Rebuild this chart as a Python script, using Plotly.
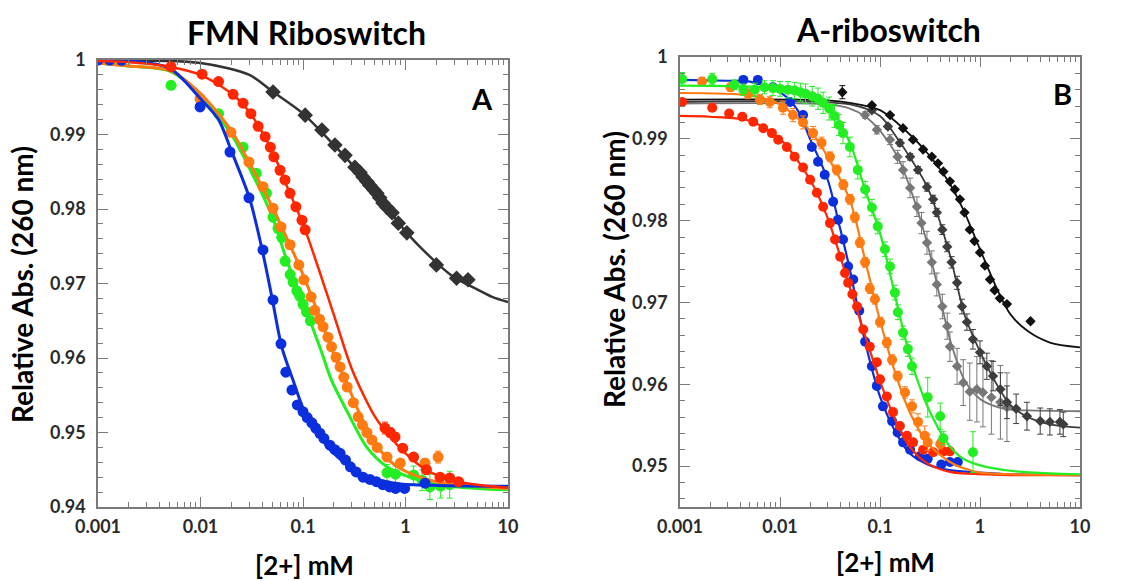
import plotly.graph_objects as go

# ================= Panel A : FMN Riboswitch =================
A_black_x = [0.051, 0.105, 0.153, 0.205, 0.257, 0.321, 0.36, 0.385, 0.42, 0.447, 0.49,
             0.525, 0.56, 0.603, 0.66, 0.74, 0.85, 1.03, 2.0, 3.15, 4.07]
A_black_y = [0.9957, 0.9926, 0.9906, 0.9886, 0.9872, 0.9856, 0.9849, 0.9843, 0.9837, 0.9832,
             0.9826, 0.9821, 0.9815, 0.9808, 0.9802, 0.9795, 0.9781, 0.9768, 0.9725, 0.9707, 0.9705]
A_black_fit_x = [0.001, 0.01, 0.03, 0.05, 0.1, 0.2, 0.3, 0.5, 1, 2, 3, 5, 7, 10]
A_black_fit_y = [0.99998, 0.9996, 0.998, 0.9958, 0.9928, 0.9886, 0.986, 0.9824, 0.977, 0.9728,
                 0.9708, 0.9692, 0.9682, 0.9675]

A_green_x = [0.00516, 0.015, 0.026, 0.035, 0.044, 0.051, 0.057, 0.062, 0.067, 0.075, 0.08,
             0.087, 0.093, 0.1, 0.108, 0.118, 0.66, 0.8, 1.2, 1.45, 1.73, 2.2, 2.7]
A_green_y = [0.9966, 0.9928, 0.9883, 0.9848, 0.9821, 0.9789, 0.9774, 0.9762, 0.973, 0.9712,
             0.9702, 0.969, 0.9683, 0.9672, 0.9662, 0.965, 0.9446, 0.9444, 0.9443, 0.9436,
             0.9427, 0.9428, 0.943]
A_green_err = [0.0003, 0.0004, 0.0005, 0.0005, 0.0006, 0.0006, 0.0006, 0.0006, 0.0006, 0.0006,
               0.0006, 0.0006, 0.0006, 0.0006, 0.0006, 0.0006, 0.0011, 0.0011, 0.0012, 0.0014,
               0.0017, 0.0016, 0.0018]
A_green_fit_x = [0.001, 0.002, 0.005, 0.01, 0.02, 0.03, 0.05, 0.07, 0.1, 0.15, 0.19, 0.275,
                 0.42, 0.66, 1.1, 2, 5, 10]
A_green_fit_y = [0.9996, 0.9992, 0.9985, 0.9953, 0.99, 0.9855, 0.979, 0.973, 0.9675, 0.961,
                 0.957, 0.9526, 0.948, 0.9454, 0.944, 0.943, 0.9425, 0.9423]

A_orange_x = [0.0099, 0.0198, 0.0297, 0.0407, 0.051, 0.061, 0.0747, 0.091, 0.102, 0.12, 0.13,
              0.145, 0.157, 0.175, 0.19, 0.21, 0.23, 0.25, 0.27, 0.31, 0.345, 0.38, 0.42, 0.47,
              0.53, 0.66, 0.89, 1.55, 2.08]
A_orange_y = [0.9948, 0.9903, 0.9863, 0.983, 0.9801, 0.9776, 0.9752, 0.9725, 0.9705, 0.9682,
              0.9664, 0.9652, 0.9642, 0.9628, 0.9615, 0.9601, 0.9588, 0.9574, 0.9561, 0.954,
              0.9521, 0.951, 0.95, 0.949, 0.948, 0.9467, 0.9459, 0.9459, 0.9467]
A_orange_err = [0.0003, 0.0004, 0.0004, 0.0004, 0.0004, 0.0004, 0.0004, 0.0004, 0.0004, 0.0004,
                0.0004, 0.0004, 0.0004, 0.0004, 0.0004, 0.0004, 0.0004, 0.0004, 0.0004, 0.0004,
                0.0004, 0.0004, 0.0004, 0.0004, 0.0004, 0.0005, 0.0005, 0.0006, 0.0008]
A_orange_fit_x = [0.001, 0.002, 0.005, 0.01, 0.02, 0.03, 0.05, 0.07, 0.1, 0.15, 0.2, 0.27,
                  0.35, 0.5, 0.7, 1, 2, 5, 10]
A_orange_fit_y = [0.9996, 0.9992, 0.9986, 0.9955, 0.9905, 0.9862, 0.9803, 0.976, 0.9712, 0.965,
                  0.9605, 0.9565, 0.9528, 0.9487, 0.9462, 0.9448, 0.9434, 0.9428, 0.9425]

A_blue_x = [0.001, 0.0013, 0.0017, 0.0099, 0.0194, 0.0297, 0.0407, 0.051, 0.061, 0.068, 0.078,
            0.088, 0.1, 0.11, 0.122, 0.133, 0.146, 0.16, 0.183, 0.205, 0.23, 0.26, 0.29, 0.33,
            0.385, 0.45, 0.52, 0.6, 0.7, 0.8, 0.98, 1.55]
A_blue_y = [1.0, 1.0, 0.99995, 0.9937, 0.98765, 0.9815, 0.9745, 0.9678, 0.9619, 0.9581, 0.9557,
            0.9537, 0.9528, 0.952, 0.9513, 0.9506, 0.9499, 0.9492, 0.9483, 0.9477, 0.9472,
            0.9463, 0.9454, 0.9447, 0.944, 0.9437, 0.9434, 0.943, 0.9427, 0.9425, 0.9425, 0.9432]
A_blue_fit_x = [0.001, 0.002, 0.005, 0.01, 0.015, 0.02, 0.03, 0.04, 0.05, 0.062, 0.08, 0.105,
                0.14, 0.175, 0.25, 0.36, 0.6, 0.9, 2, 10]
A_blue_fit_y = [0.99995, 0.9999, 0.9989, 0.9948, 0.992, 0.9878, 0.9815, 0.9745, 0.968, 0.9615,
                0.957, 0.9526, 0.95, 0.948, 0.946, 0.9444, 0.9435, 0.9431, 0.9429, 0.9428]

A_red_x = [0.00515, 0.01035, 0.015, 0.0208, 0.026, 0.031, 0.0365, 0.0427, 0.048, 0.052, 0.0597,
           0.0667, 0.0747, 0.0853, 0.0977, 0.105, 0.63, 0.71, 0.79, 0.94, 1.2, 1.6, 2.17, 2.7, 3.3]
A_red_y = [0.9991, 0.9981, 0.9971, 0.9954, 0.9942, 0.9928, 0.9911, 0.9897, 0.9883, 0.987,
           0.9852, 0.9839, 0.9821, 0.9803, 0.9785, 0.9772, 0.9506, 0.95, 0.9494, 0.9479, 0.9467,
           0.945, 0.944, 0.9439, 0.9434]
A_red_err = [0.0002, 0.0002, 0.0002, 0.0002, 0.0002, 0.0002, 0.0002, 0.0002, 0.0002, 0.0002,
             0.0002, 0.0002, 0.0002, 0.0002, 0.0002, 0.0002, 0.0008, 0.0006, 0.0006, 0.0005,
             0.0005, 0.0004, 0.0004, 0.0004, 0.0003]
A_red_fit_x = [0.001, 0.002, 0.005, 0.01, 0.02, 0.03, 0.05, 0.07, 0.1, 0.15, 0.2, 0.3, 0.5,
               0.7, 1, 1.5, 2, 3, 5, 10]
A_red_fit_y = [0.99985, 0.9997, 0.9991, 0.998, 0.9955, 0.993, 0.9878, 0.983, 0.978, 0.971,
               0.9658, 0.9585, 0.9522, 0.9495, 0.9472, 0.9452, 0.9443, 0.9435, 0.943, 0.9426]

# ================= Panel B : A-riboswitch =================
B_gray_x = [0.071, 0.093, 0.126, 0.15, 0.17, 0.2, 0.234, 0.26, 0.295, 0.33, 0.37, 0.42, 0.47,
            0.5, 0.59, 0.68, 0.79, 0.93, 1.07, 1.3, 1.6, 1.86]
B_gray_y = [0.9929, 0.9911, 0.9899, 0.9878, 0.9862, 0.984, 0.9817, 0.9797, 0.9773, 0.9749,
            0.9722, 0.9695, 0.9671, 0.9646, 0.9622, 0.9602, 0.9591, 0.9594, 0.959, 0.9584,
            0.9578, 0.9572]
B_gray_err = [0.0004, 0.0005, 0.0006, 0.0008, 0.001, 0.0012, 0.0012, 0.0013, 0.0014, 0.0014,
              0.0014, 0.0015, 0.0016, 0.0018, 0.0022, 0.0028, 0.0035, 0.004, 0.0042, 0.0045,
              0.0045, 0.0042]
B_gray_fit_x = [0.001, 0.03, 0.05, 0.07, 0.1, 0.15, 0.2, 0.3, 0.4, 0.5, 0.7, 1, 1.5, 2, 3, 10]
B_gray_fit_y = [0.9943, 0.9942, 0.9937, 0.9928, 0.991, 0.9878, 0.984, 0.977, 0.9705, 0.9655,
                0.9605, 0.9582, 0.9572, 0.9569, 0.9568, 0.9567]

B_dgray_x = [0.083, 0.12, 0.158, 0.2, 0.24, 0.295, 0.34, 0.37, 0.42, 0.47, 0.52, 0.59, 0.66,
             0.74, 0.85, 1.0, 1.17, 1.35, 1.6, 1.86, 2.3, 2.95, 4.0, 5.0, 6.3, 6.8]
B_dgray_y = [0.9935, 0.9915, 0.9895, 0.9878, 0.9862, 0.9841, 0.9826, 0.981, 0.9789, 0.9768,
             0.9749, 0.9724, 0.9695, 0.9676, 0.9655, 0.9639, 0.9622, 0.961, 0.9594, 0.9578,
             0.957, 0.9561, 0.9555, 0.9554, 0.9554, 0.9551]
B_dgray_err = [0.0003, 0.0003, 0.0004, 0.0004, 0.0004, 0.0005, 0.0005, 0.0005, 0.0006, 0.0006,
               0.0007, 0.0008, 0.0009, 0.001, 0.0012, 0.0014, 0.0016, 0.0018, 0.002, 0.002,
               0.0018, 0.0017, 0.0016, 0.0016, 0.0015, 0.0015]
B_dgray_fit_x = [0.001, 0.05, 0.1, 0.15, 0.2, 0.3, 0.5, 0.7, 1, 1.5, 2, 3, 5, 10]
B_dgray_fit_y = [0.9945, 0.9942, 0.9928, 0.99, 0.9877, 0.984, 0.9758, 0.9685, 0.964, 0.9598,
                 0.9575, 0.956, 0.9551, 0.9547]

B_black_x = [0.042, 0.083, 0.126, 0.17, 0.214, 0.27, 0.33, 0.38, 0.43, 0.5, 0.56, 0.63, 0.7,
             0.79, 0.88, 1.0, 1.12, 1.26, 1.4, 1.58, 1.86, 3.2]
B_black_y = [0.9957, 0.9941, 0.9929, 0.9913, 0.9899, 0.9887, 0.9878, 0.987, 0.986, 0.9848,
             0.9838, 0.9826, 0.981, 0.9789, 0.9775, 0.9761, 0.9745, 0.9728, 0.9715, 0.9705,
             0.9698, 0.9677]
B_black_err = [0.0008, 0.0002, 0.0002, 0.0002, 0.0002, 0.0002, 0.0002, 0.0002, 0.0002, 0.0002,
               0.0002, 0.0002, 0.0002, 0.0002, 0.0002, 0.0002, 0.0002, 0.0002, 0.0002, 0.0002,
               0.0002, 0.0002]
B_black_fit_x = [0.001, 0.03, 0.05, 0.1, 0.2, 0.3, 0.5, 0.7, 1, 1.5, 2, 3, 5, 10]
B_black_fit_y = [0.9948, 0.9947, 0.9944, 0.9935, 0.9905, 0.9882, 0.9845, 0.981, 0.9765, 0.9715,
                 0.9686, 0.9665, 0.9651, 0.9645]

B_blue_x = [0.0043, 0.006, 0.0085, 0.0126, 0.017, 0.0208, 0.024, 0.028, 0.034, 0.038, 0.0427,
            0.048, 0.054, 0.062, 0.071, 0.083, 0.093, 0.107, 0.132, 0.15, 0.17, 0.2, 0.25, 0.3,
            0.41, 0.5, 0.6]
B_blue_y = [0.9972, 0.9972, 0.9963, 0.9945, 0.9929, 0.989, 0.9872, 0.9856, 0.9823, 0.9801,
            0.9777, 0.9744, 0.9728, 0.969, 0.9652, 0.9622, 0.9598, 0.9573, 0.9555, 0.9541,
            0.9529, 0.952, 0.9512, 0.9509, 0.9502, 0.9505, 0.9505]
B_blue_fit_x = [0.001, 0.003, 0.005, 0.01, 0.015, 0.02, 0.03, 0.04, 0.05, 0.07, 0.1, 0.15,
                0.2, 0.3, 0.5, 1, 2, 10]
B_blue_fit_y = [0.9972, 0.9971, 0.997, 0.9957, 0.9935, 0.99, 0.985, 0.979, 0.974, 0.9655,
                0.9585, 0.9537, 0.9515, 0.9502, 0.9495, 0.9492, 0.949, 0.9489]

B_red_x = [0.00105, 0.0021, 0.0031, 0.0042, 0.0054, 0.0068, 0.0083, 0.0096, 0.0117, 0.014,
           0.017, 0.02, 0.0234, 0.027, 0.0316, 0.0355, 0.04, 0.0447, 0.048, 0.053, 0.059, 0.068,
           0.079, 0.093, 0.1, 0.117, 0.135, 0.158, 0.186, 0.214, 0.27, 0.34, 0.43, 0.5]
B_red_y = [0.9945, 0.9938, 0.9931, 0.9927, 0.9921, 0.9913, 0.9907, 0.9899, 0.989, 0.9878,
           0.9865, 0.985, 0.9834, 0.9817, 0.9797, 0.9777, 0.9756, 0.9736, 0.9724, 0.971, 0.9695,
           0.9667, 0.9646, 0.9627, 0.9606, 0.9585, 0.9566, 0.9549, 0.9537, 0.9529, 0.952,
           0.9517, 0.9518, 0.9518]
B_red_fit_x = [0.001, 0.002, 0.005, 0.01, 0.02, 0.03, 0.05, 0.07, 0.1, 0.15, 0.2, 0.3, 0.5,
               1, 2, 10]
B_red_fit_y = [0.9928, 0.9927, 0.9922, 0.99, 0.985, 0.9803, 0.9718, 0.9662, 0.9604, 0.955,
               0.9523, 0.9503, 0.9493, 0.949, 0.9489, 0.9489]

B_orange_x = [0.00166, 0.0032, 0.0048, 0.0063, 0.0079, 0.0107, 0.0135, 0.017, 0.0214, 0.026,
              0.0316, 0.037, 0.043, 0.05, 0.056, 0.063, 0.071, 0.079, 0.089, 0.1, 0.117, 0.132,
              0.15, 0.178, 0.209, 0.24, 0.28, 0.3, 0.4]
B_orange_y = [0.997, 0.9963, 0.9955, 0.9948, 0.9945, 0.9938, 0.9929, 0.992, 0.9907, 0.9895,
              0.9878, 0.9862, 0.9844, 0.9826, 0.9804, 0.9773, 0.9749, 0.9717, 0.9704, 0.9676,
              0.9651, 0.963, 0.961, 0.959, 0.9573, 0.9554, 0.9537, 0.9529, 0.9527]
B_orange_err = [0.0005, 0.0005, 0.0006, 0.0006, 0.0007, 0.0008, 0.0008, 0.0008, 0.0008, 0.0007,
                0.0006, 0.0006, 0.0006, 0.0006, 0.0006, 0.0006, 0.0006, 0.0006, 0.0006, 0.0006,
                0.0006, 0.0006, 0.0006, 0.0007, 0.0008, 0.001, 0.0012, 0.001, 0.0006]
B_orange_fit_x = [0.001, 0.005, 0.01, 0.02, 0.03, 0.05, 0.07, 0.1, 0.15, 0.2, 0.3, 0.5, 0.7,
                  1, 2, 10]
B_orange_fit_y = [0.9956, 0.9953, 0.9942, 0.991, 0.9878, 0.9825, 0.9755, 0.9678, 0.9605,
                  0.9565, 0.9528, 0.9505, 0.9497, 0.9492, 0.949, 0.9489]

B_green_x = [0.00105, 0.0021, 0.0035, 0.0043, 0.0056, 0.007, 0.0085, 0.01, 0.012, 0.014,
             0.016, 0.018, 0.021, 0.024, 0.027, 0.031, 0.035, 0.039, 0.0427, 0.05, 0.06, 0.071,
             0.083, 0.095, 0.112, 0.126, 0.141, 0.151, 0.17, 0.19, 0.209, 0.3, 0.4, 0.43, 0.85]
B_green_y = [0.9973, 0.9973, 0.9966, 0.996, 0.996, 0.9963, 0.9962, 0.9961, 0.996, 0.9959,
             0.9957, 0.9955, 0.9952, 0.9949, 0.9944, 0.9937, 0.9928, 0.9917, 0.9907, 0.989,
             0.9862, 0.9838, 0.9816, 0.9793, 0.9765, 0.9744, 0.9712, 0.9688, 0.9663, 0.9643,
             0.9622, 0.9584, 0.9561, 0.9534, 0.9517]
B_green_err = [0.0008, 0.0007, 0.0006, 0.0007, 0.0008, 0.0008, 0.0009, 0.0009, 0.001, 0.001,
               0.0011, 0.0012, 0.0012, 0.0013, 0.0013, 0.0014, 0.0014, 0.0013, 0.0013, 0.0012,
               0.0011, 0.001, 0.001, 0.0009, 0.0009, 0.0009, 0.0009, 0.0009, 0.0008, 0.0009,
               0.001, 0.0024, 0.0016, 0.0008, 0.0025]
B_green_fit_x = [0.001, 0.01, 0.02, 0.03, 0.05, 0.07, 0.1, 0.15, 0.2, 0.235, 0.316, 0.5, 0.7,
                 1.07, 2.1, 5, 10]
B_green_fit_y = [0.9965, 0.9962, 0.9955, 0.9942, 0.9895, 0.984, 0.9785, 0.9695, 0.9633,
                 0.9606, 0.9566, 0.9524, 0.9508, 0.95, 0.9494, 0.9491, 0.949]

X_TICKS = [0.001, 0.01, 0.1, 1, 10]
X_TICKTEXT = ["0.001", "0.01", "0.1", "1", "10"]
A_Y_TICKS = [0.94, 0.95, 0.96, 0.97, 0.98, 0.99, 1.0]
A_Y_TICKTEXT = ["0.94", "0.95", "0.96", "0.97", "0.98", "0.99", "1"]
B_Y_TICKS = [0.95, 0.96, 0.97, 0.98, 0.99, 1.0]
B_Y_TICKTEXT = ["0.95", "0.96", "0.97", "0.98", "0.99", "1"]

# colours
BLUE = "#0b2fdc"
RED = "#ff2600"
ORANGE = "#ff7a10"
GREEN = "#22ee22"
A_BLACK = "#333333"
B_BLACK = "#111111"
B_DGRAY = "#3d3d3d"
B_GRAY = "#777777"

W, H = 1138, 581
FONT = "Lato"


def fx(p):
    return p / W


def fy(p):
    return 1 - p / H


fig = go.Figure()


def add_series(x, y, err, fitx, fity, color, symbol, size, lw, xa, ya):
    fig.add_trace(go.Scatter(
        x=fitx, y=fity, mode="lines", xaxis=xa, yaxis=ya,
        line=dict(color=color, width=lw, shape="spline", smoothing=0.8),
        showlegend=False, hoverinfo="skip"))
    ey = dict(visible=False)
    if err is not None:
        ey = dict(type="data", array=err, color=color, thickness=1, width=3, visible=True)
    fig.add_trace(go.Scatter(
        x=x, y=y, mode="markers", xaxis=xa, yaxis=ya,
        marker=dict(color=color, symbol=symbol, size=size, line=dict(width=0)),
        error_y=ey, showlegend=False))


# Panel A
add_series(A_black_x, A_black_y, None, A_black_fit_x, A_black_fit_y, A_BLACK, "diamond", 12, 2.5, "x", "y")
add_series(A_green_x, A_green_y, A_green_err, A_green_fit_x, A_green_fit_y, GREEN, "circle", 11, 3, "x", "y")
add_series(A_orange_x, A_orange_y, A_orange_err, A_orange_fit_x, A_orange_fit_y, ORANGE, "circle", 11, 3, "x", "y")
add_series(A_blue_x, A_blue_y, None, A_blue_fit_x, A_blue_fit_y, BLUE, "circle", 11, 3, "x", "y")
add_series(A_red_x, A_red_y, A_red_err, A_red_fit_x, A_red_fit_y, RED, "circle", 11, 2.5, "x", "y")

# Panel B
add_series(B_gray_x, B_gray_y, B_gray_err, B_gray_fit_x, B_gray_fit_y, B_GRAY, "diamond", 8, 1.8, "x2", "y2")
add_series(B_dgray_x, B_dgray_y, B_dgray_err, B_dgray_fit_x, B_dgray_fit_y, B_DGRAY, "diamond", 8, 1.8, "x2", "y2")
add_series(B_black_x, B_black_y, B_black_err, B_black_fit_x, B_black_fit_y, B_BLACK, "diamond", 8, 1.8, "x2", "y2")
add_series(B_blue_x, B_blue_y, None, B_blue_fit_x, B_blue_fit_y, BLUE, "circle", 10, 2.2, "x2", "y2")
add_series(B_red_x, B_red_y, None, B_red_fit_x, B_red_fit_y, RED, "circle", 10, 2.2, "x2", "y2")
add_series(B_orange_x, B_orange_y, B_orange_err, B_orange_fit_x, B_orange_fit_y, ORANGE, "circle", 10, 2.2, "x2", "y2")
add_series(B_green_x, B_green_y, B_green_err, B_green_fit_x, B_green_fit_y, GREEN, "circle", 10, 2.2, "x2", "y2")

x_minor = [m * 10 ** e for e in range(-3, 1) for m in range(2, 10)]
A_y_minor = [round(0.94 + 0.002 * i, 3) for i in range(31)]
B_y_minor = [round(0.946 + 0.002 * i, 3) for i in range(28)]

tickfont = dict(family=FONT, size=18, color="#2a2a2a", weight="bold")
frame = dict(showline=True, linecolor="#7a7a7a", linewidth=1.5, mirror="ticks",
             ticks="inside", ticklen=10, tickwidth=1.3, tickcolor="#7a7a7a",
             showgrid=False, zeroline=False, tickfont=tickfont, automargin=False)
xminor = dict(tickvals=x_minor, ticks="inside", ticklen=5, tickwidth=1.1, tickcolor="#7a7a7a", showgrid=False)

fig.update_layout(
    template="none",
    width=W, height=H, margin=dict(l=0, r=0, t=0, b=0, pad=0, autoexpand=False),
    paper_bgcolor="white", plot_bgcolor="white", showlegend=False,
    xaxis=dict(type="log", range=[-3, 1], domain=[fx(98), fx(508)], anchor="y",
               tickvals=X_TICKS, ticktext=X_TICKTEXT, ticklabelstandoff=3, minor=xminor, **frame),
    yaxis=dict(range=[0.94, 1.0], domain=[fy(507), fy(60)], anchor="x",
               tickvals=A_Y_TICKS, ticktext=A_Y_TICKTEXT, ticklabelstandoff=7,
               minor=dict(tickvals=A_y_minor, ticks="inside", ticklen=5, tickwidth=1.1,
                          tickcolor="#7a7a7a", showgrid=False), **frame),
    xaxis2=dict(type="log", range=[-3, 1], domain=[fx(680), fx(1080)], anchor="y2",
                tickvals=X_TICKS, ticktext=X_TICKTEXT, ticklabelstandoff=3, minor=xminor, **frame),
    yaxis2=dict(range=[0.945, 1.0], domain=[fy(507), fy(57)], anchor="x2",
                tickvals=B_Y_TICKS, ticktext=B_Y_TICKTEXT, ticklabelstandoff=7,
                minor=dict(tickvals=B_y_minor, ticks="inside", ticklen=5, tickwidth=1.1,
                           tickcolor="#7a7a7a", showgrid=False), **frame),
)


def note(text, x, y, size, angle=0):
    fig.add_annotation(text=text, x=fx(x), y=fy(y), xref="paper", yref="paper",
                       showarrow=False, textangle=angle, xanchor="center", yanchor="middle",
                       font=dict(family=FONT, size=size, color="black", weight="bold"))


note("FMN Riboswitch", 306, 32, 32)
note("A-riboswitch", 888, 30, 32)
note("Relative Abs. (260 nm)", 22, 285, 28, -90)
note("Relative Abs. (260 nm)", 614, 270, 28, -90)
note("[2+] mM", 304, 565, 26)
note("[2+] mM", 885, 562, 26)
note("A", 482, 98, 29)
note("B", 1062, 93, 29)

fig.write_html("out.html", config={"displayModeBar": False},
               post_script="document.body.style.margin='0px';document.body.style.overflow='hidden';")
